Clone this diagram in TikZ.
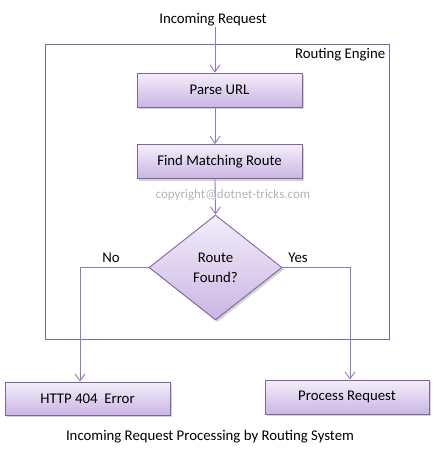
\documentclass[tikz,border=0pt]{standalone}
\usepackage{fontspec}
\setmainfont{Carlito}
\usetikzlibrary{arrows.meta,shapes.geometric,shadows}
\definecolor{boxborder}{HTML}{8064A2}
\definecolor{linecol}{HTML}{8F79B6}
\definecolor{boxtop}{HTML}{F3EEFA}
\definecolor{boxbot}{HTML}{CAB6E3}
\definecolor{wm}{HTML}{B4B4B4}
\tikzset{
  txt/.style={font=\fontsize{14.8}{17}\selectfont, inner sep=0pt},
  procbox/.style={draw=boxborder, line width=0.9pt, top color=boxtop, bottom color=boxbot,
    minimum width=165pt, minimum height=34pt, inner sep=0pt,
    font=\fontsize{14.8}{17}\selectfont,
    drop shadow={opacity=0.35, shadow xshift=2pt, shadow yshift=-2pt}},
  decision/.style={diamond, draw=boxborder, line width=0.9pt, top color=boxtop, bottom color=boxbot,
    minimum width=133pt, minimum height=105pt, inner sep=0pt, align=center,
    font=\fontsize{14.8}{20}\selectfont,
    drop shadow={opacity=0.35, shadow xshift=2pt, shadow yshift=-2pt}},
  frame/.style={draw=boxborder, line width=0.9pt, minimum width=344pt, minimum height=295pt, inner sep=0pt},
  arr/.style={draw=linecol, line width=0.9pt, -{Straight Barb[length=7pt,width=10pt]}},
}
\begin{document}
\begin{tikzpicture}[x=1pt,y=-1pt]
\useasboundingbox (0,0) rectangle (437,458);
\node[frame] (eng) at (217,191.5) {};
\node[txt, anchor=north east] (englbl) at ([xshift=-4pt,yshift=-5pt]eng.north east) {Routing Engine};
\node[txt] (in) at (213,20) {Incoming Request};
\node[procbox] (parse) at (219.5,90) {Parse URL};
\node[procbox] (find) at (219.5,161.5) {Find Matching Route};
\node[font=\fontsize{13}{15}\selectfont, text=wm, inner sep=0pt] (copy) at (233,195) {copyright@dotnet-tricks.com};
\node[decision] (dia) at (215.5,267.5) {Route\\Found?};
\node[procbox, minimum height=33pt] (http) at (87.5,398.5) {HTTP 404~~Error};
\node[procbox, minimum width=164pt] (proc) at (347,397) {Process Request};
\node[txt] (cap) at (210,437) {Incoming Request Processing by Routing System};
\node[txt] (no) at (111,258) {No};
\node[txt] (yes) at (298,258) {Yes};
\coordinate (noX) at (80,0);
\coordinate (yesX) at (350,0);
\coordinate (mainX) at (215,0);
\draw[arr] (in.south -| mainX) -- (parse.north -| mainX);
\draw[arr] (parse.south -| mainX) -- (find.north -| mainX);
\draw[arr] (find.south -| mainX) -- (dia.north);
\draw[arr] (dia.west) -| (http.north -| noX);
\draw[arr] (dia.east) -| (proc.north -| yesX);
\end{tikzpicture}
\end{document}
